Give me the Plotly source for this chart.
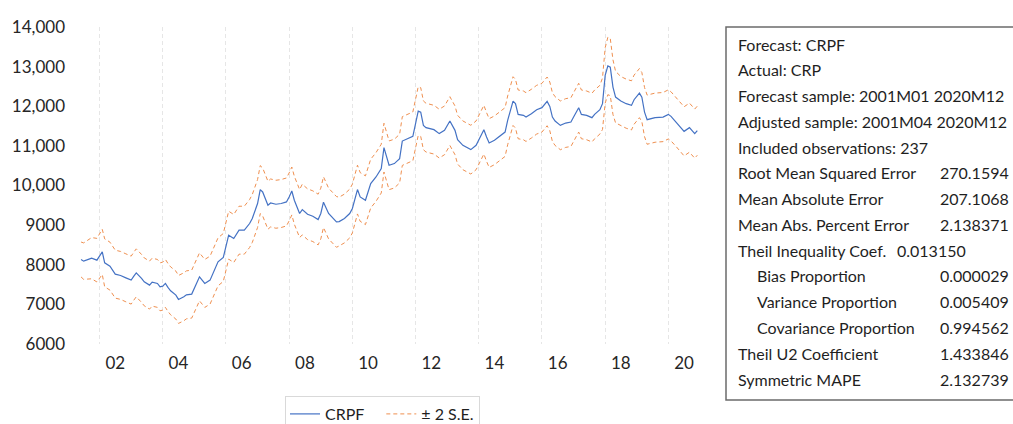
import plotly.graph_objects as go

# ---------------- data ----------------
dates = [
    "2001-06", "2001-07", "2001-09", "2001-10", "2001-12", "2002-02", "2002-03", "2002-05", "2002-07", "2002-09",
    "2002-11", "2003-01", "2003-02", "2003-03", "2003-05", "2003-06", "2003-08", "2003-09", "2003-11", "2003-12",
    "2004-01", "2004-02", "2004-03", "2004-04", "2004-06", "2004-07", "2004-09", "2004-10", "2004-12", "2005-01",
    "2005-03", "2005-05", "2005-07", "2005-10", "2005-12", "2006-02", "2006-04", "2006-06", "2006-08", "2006-10",
    "2006-11", "2007-01", "2007-02", "2007-03", "2007-05", "2007-06", "2007-08", "2007-10", "2007-12", "2008-01",
    "2008-02", "2008-03", "2008-05", "2008-06", "2008-08", "2008-10", "2008-12", "2009-01", "2009-02", "2009-04",
    "2009-07", "2009-08", "2009-10", "2009-12", "2010-01", "2010-03", "2010-04", "2010-06", "2010-08", "2010-10",
    "2010-12", "2011-01", "2011-03", "2011-05", "2011-07", "2011-08", "2011-10", "2011-12", "2012-02", "2012-03",
    "2012-04", "2012-05", "2012-08", "2012-10", "2012-12", "2013-02", "2013-04", "2013-05", "2013-07", "2013-09",
    "2013-10", "2013-12", "2014-02", "2014-03", "2014-04", "2014-05", "2014-07", "2014-09", "2014-11", "2014-12",
    "2015-02", "2015-03", "2015-04", "2015-06", "2015-07", "2015-09", "2015-11", "2016-01", "2016-03", "2016-04",
    "2016-05", "2016-06", "2016-08", "2016-10", "2016-12", "2017-01", "2017-03", "2017-04", "2017-06", "2017-08",
    "2017-09", "2017-11", "2017-12", "2018-01", "2018-02", "2018-03", "2018-04", "2018-05", "2018-07", "2018-09",
    "2018-11", "2018-12", "2019-02", "2019-03", "2019-04", "2019-05", "2019-08", "2019-11", "2020-01", "2020-02",
    "2020-04", "2020-07", "2020-09", "2020-11", "2020-12",
]

crpf = [
    8133, 8091, 8141, 8166, 8116, 8325, 8048, 7965, 7763, 7730,
    7670, 7612, 7713, 7796, 7655, 7569, 7486, 7561, 7529, 7443,
    7461, 7529, 7428, 7342, 7234, 7125, 7191, 7241, 7259, 7403,
    7695, 7529, 7612, 8073, 8184, 8746, 8663, 8872, 8872, 9041,
    9167, 9545, 9897, 9837, 9502, 9560, 9527, 9545, 9585, 9711,
    9862, 9628, 9293, 9393, 9275, 9225, 9141, 9293, 9580, 9293,
    9081, 9090, 9167, 9293, 9419, 9897, 9711, 9628, 10049, 10215,
    10427, 10956, 10510, 10553, 10679, 11122, 11183, 11241, 11878, 11853,
    11518, 11460, 11409, 11309, 11392, 11626, 11392, 11157, 11014, 10931,
    10905, 11014, 11266, 11409, 11223, 11072, 11140, 11241, 11349, 11644,
    12130, 12065, 11795, 11770, 11727, 11813, 11913, 11964, 12123, 11997,
    11727, 11626, 11518, 11576, 11601, 11727, 11964, 11795, 11770, 11712,
    11795, 11913, 12065, 12778, 13017, 12987, 12483, 12231, 12130, 12065,
    12022, 12165, 12332, 12231, 11853, 11661, 11712, 11727, 11795, 11745,
    11601, 11367, 11460, 11309, 11384,
]

# two standard errors (half-width of the band)
two_se = (
    [440, 460, 500, 520, 550, 570]
    + [605] * 47
    + [640] * 8
    + [615] * 61
    + [650, 700, 725, 720, 690, 650]
    + [620] * 18
)

y_ticks = [6000, 7000, 8000, 9000, 10000, 11000, 12000, 13000, 14000]
y_tick_text = ["6000", "7000", "8000", "9000", "10,000", "11,000", "12,000", "13,000", "14,000"]
x_ticks = ["2002-07-01", "2004-07-01", "2006-07-01", "2008-07-01", "2010-07-01",
           "2012-07-01", "2014-07-01", "2016-07-01", "2018-07-01", "2020-07-01"]
x_tick_text = ["02", "04", "06", "08", "10", "12", "14", "16", "18", "20"]

stats_labels = [
    ("Forecast: CRPF", 0), ("Actual: CRP", 0), ("Forecast sample: 2001M01 2020M12", 0),
    ("Adjusted sample: 2001M04 2020M12", 0), ("Included observations: 237", 0),
    ("Root Mean Squared Error", 0), ("Mean Absolute Error", 0), ("Mean Abs. Percent Error", 0),
    ("Theil Inequality Coef.", 0), ("Bias Proportion", 1), ("Variance Proportion", 1),
    ("Covariance Proportion", 1), ("Theil U2 Coefficient", 0), ("Symmetric MAPE", 0),
]
stats_values = [None, None, None, None, None, "270.1594", "207.1068", "2.138371",
                "0.013150", "0.000029", "0.005409", "0.994562", "1.433846", "2.132739"]

# ---------------- figure ----------------
upper = [f + s for f, s in zip(crpf, two_se)]
lower = [f - s for f, s in zip(crpf, two_se)]

FONT = "Lato, Carlito, 'Open Sans', sans-serif"
BLUE = "#4472C4"
ORANGE = "#EF8F4F"

fig = go.Figure()
fig.add_trace(go.Scatter(x=dates, y=crpf, mode="lines", name="CRPF   ",
                         line=dict(color=BLUE, width=1.2)))
fig.add_trace(go.Scatter(x=dates, y=upper, mode="lines", name="± 2 S.E.",
                         legendgroup="se", line=dict(color=ORANGE, width=1.0, dash="4px,3px")))
fig.add_trace(go.Scatter(x=dates, y=lower, mode="lines", name="± 2 S.E.", showlegend=False,
                         legendgroup="se", line=dict(color=ORANGE, width=1.0, dash="4px,3px")))

L, R, T, B = 68, 313, 27, 80
W, H = 1013, 424
pw, ph = W - L - R, H - T - B


def px_to_paper_x(px):
    return (px - L) / pw


def px_to_paper_y(py):
    return (H - B - py) / ph


fig.update_layout(
    width=W, height=H,
    margin=dict(l=L, r=R, t=T, b=B, pad=0, autoexpand=False),
    paper_bgcolor="white", plot_bgcolor="white",
    font=dict(family=FONT, size=15, color="#1f1f1f"),
    showlegend=True,
    legend=dict(orientation="h", x=px_to_paper_x(285), y=px_to_paper_y(396),
                xanchor="left", yanchor="top",
                bordercolor="#d9d9d9", borderwidth=1, bgcolor="white",
                font=dict(family=FONT, size=16, color="#1f1f1f"),
                itemwidth=30, tracegroupgap=0),
    xaxis=dict(
        type="date", automargin=False,
        range=["2001-01-01", "2021-01-01"],
        tickvals=x_ticks, ticktext=x_tick_text,
        ticks="", showgrid=False, zeroline=False, showline=False,
        tickfont=dict(family=FONT, size=17, color="#262626"),
        ticklabelstandoff=7,
        minor=dict(tick0="2002-01-01", dtick="M24", showgrid=True,
                   gridcolor="#e6e6e6", griddash="4px,3px", gridwidth=1, ticks=""),
    ),
    yaxis=dict(
        automargin=False,
        range=[6000, 14000],
        tickvals=y_ticks, ticktext=y_tick_text,
        ticks="", showgrid=False, zeroline=False, showline=False,
        tickfont=dict(family=FONT, size=17, color="#262626"),
        ticklabelstandoff=2,
    ),
)

# statistics box
fig.add_shape(type="rect", xref="paper", yref="paper",
              x0=px_to_paper_x(726), x1=px_to_paper_x(1040),
              y0=px_to_paper_y(400), y1=px_to_paper_y(27),
              line=dict(color="#6b6b6b", width=1.5), fillcolor="white", layer="below")

for i, ((label, indent), value) in enumerate(zip(stats_labels, stats_values)):
    py = 44 + 25.77 * i
    fig.add_annotation(xref="paper", yref="paper", x=px_to_paper_x(755 if indent else 736),
                       y=px_to_paper_y(py), text=label, showarrow=False,
                       xanchor="left", yanchor="middle",
                       font=dict(family=FONT, size=16, color="#1f1f1f"))
    if value is not None:
        if label.startswith("Theil Inequality"):
            vx, anchor = 895, "left"
        else:
            vx, anchor = 1011, "right"
        fig.add_annotation(xref="paper", yref="paper", x=px_to_paper_x(vx),
                           y=px_to_paper_y(py), text=value, showarrow=False,
                           xanchor=anchor, yanchor="middle",
                           font=dict(family=FONT, size=16, color="#1f1f1f"))

fig.write_html("out.html", config={"displayModeBar": False},
               post_script="document.body.style.margin='0';document.body.style.overflow='hidden';")
